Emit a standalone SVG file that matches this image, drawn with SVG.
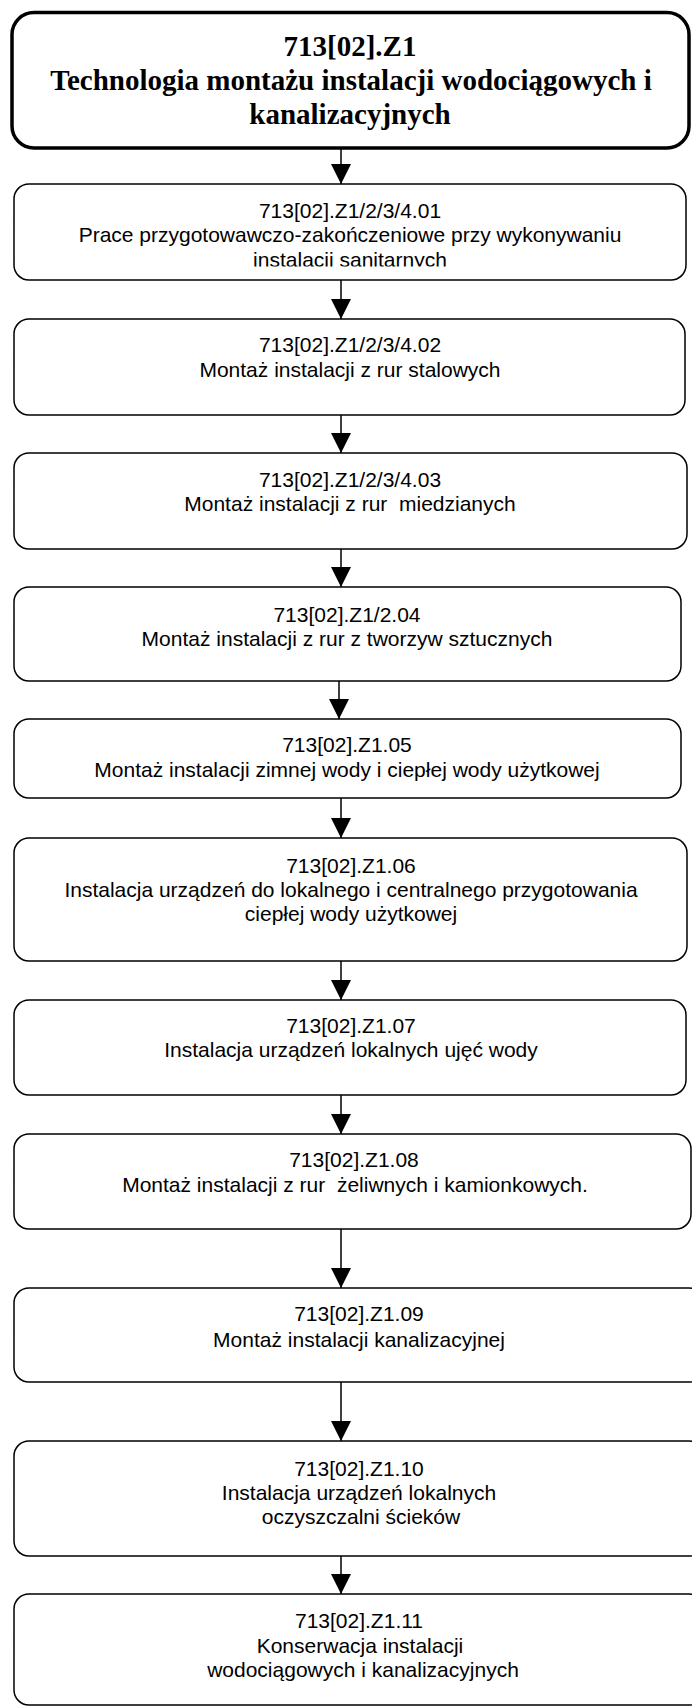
<svg xmlns="http://www.w3.org/2000/svg" width="692" height="1706" viewBox="0 0 692 1706">
<style>
.box{fill:#fff;stroke:#000;stroke-width:1.5}
.title{fill:#fff;stroke:#000;stroke-width:3.5}
.tt{font-family:"Liberation Serif","Times New Roman",serif;font-weight:bold;font-size:29px;text-anchor:middle;fill:#000}
.t{font-family:"Liberation Sans",Arial,sans-serif;font-size:21px;text-anchor:middle;fill:#000}
.c{fill:none;stroke:#000;stroke-width:1.5}
</style>
<defs>
<marker id="ah" markerUnits="userSpaceOnUse" markerWidth="20" markerHeight="20" refX="20" refY="10" orient="auto" viewBox="0 0 20 20">
<path d="M0,0 L20,10 L0,20 Z" fill="#000"/>
</marker>
<clipPath id="clip01"><rect x="0" y="180" width="692" height="86.5"/></clipPath>
</defs>
<g id="connectors">
<path class="c" d="M341,148 V184" marker-end="url(#ah)"/>
<path class="c" d="M341,280 V319" marker-end="url(#ah)"/>
<path class="c" d="M341,415 V453" marker-end="url(#ah)"/>
<path class="c" d="M341,549 V587" marker-end="url(#ah)"/>
<path class="c" d="M339,681 V719" marker-end="url(#ah)"/>
<path class="c" d="M341,798 V838" marker-end="url(#ah)"/>
<path class="c" d="M341,961 V1000" marker-end="url(#ah)"/>
<path class="c" d="M341,1095 V1134" marker-end="url(#ah)"/>
<path class="c" d="M341,1229 V1288" marker-end="url(#ah)"/>
<path class="c" d="M341,1382 V1441" marker-end="url(#ah)"/>
<path class="c" d="M341,1556 V1594" marker-end="url(#ah)"/>
</g>
<g id="n0">
<rect class="title" x="12" y="12.5" width="677" height="135.5" rx="22"/>
<text class="tt" x="350" y="56">713[02].Z1</text>
<text class="tt" x="351" y="90">Technologia montażu instalacji wodociągowych i</text>
<text class="tt" x="350" y="124">kanalizacyjnych</text>
</g>
<g id="n1">
<rect class="box" x="14" y="184" width="672" height="96" rx="15"/>
<g clip-path="url(#clip01)">
<text class="t" x="350" y="218">713[02].Z1/2/3/4.01</text>
<text class="t" x="350" y="242">Prace przygotowawczo-zakończeniowe przy wykonywaniu</text>
<text class="t" x="350" y="267">instalacji sanitarnych</text>
</g>
</g>
<g id="n2">
<rect class="box" x="14" y="319" width="671" height="96" rx="15"/>
<text class="t" x="350" y="352">713[02].Z1/2/3/4.02</text>
<text class="t" x="350" y="377">Montaż instalacji z rur stalowych</text>
</g>
<g id="n3">
<rect class="box" x="14" y="453" width="673" height="96" rx="15"/>
<text class="t" x="350" y="487">713[02].Z1/2/3/4.03</text>
<text class="t" x="350" y="511" xml:space="preserve">Montaż instalacji z rur  miedzianych</text>
</g>
<g id="n4">
<rect class="box" x="14" y="587" width="667" height="94" rx="15"/>
<text class="t" x="347" y="622">713[02].Z1/2.04</text>
<text class="t" x="347" y="646">Montaż instalacji z rur z tworzyw sztucznych</text>
</g>
<g id="n5">
<rect class="box" x="14" y="719" width="667" height="79" rx="15"/>
<text class="t" x="347" y="752">713[02].Z1.05</text>
<text class="t" x="347" y="777">Montaż instalacji zimnej wody i ciepłej wody użytkowej</text>
</g>
<g id="n6">
<rect class="box" x="14" y="838" width="673" height="123" rx="15"/>
<text class="t" x="351" y="873">713[02].Z1.06</text>
<text class="t" x="351" y="897">Instalacja urządzeń do lokalnego i centralnego przygotowania</text>
<text class="t" x="351" y="921">ciepłej wody użytkowej</text>
</g>
<g id="n7">
<rect class="box" x="14" y="1000" width="672" height="95" rx="15"/>
<text class="t" x="351" y="1033">713[02].Z1.07</text>
<text class="t" x="351" y="1057">Instalacja urządzeń lokalnych ujęć wody</text>
</g>
<g id="n8">
<rect class="box" x="14" y="1134" width="677" height="95" rx="15"/>
<text class="t" x="354" y="1167">713[02].Z1.08</text>
<text class="t" x="355" y="1192" xml:space="preserve">Montaż instalacji z rur  żeliwnych i kamionkowych.</text>
</g>
<g id="n9">
<rect class="box" x="14" y="1288" width="690" height="94" rx="15"/>
<text class="t" x="359" y="1321">713[02].Z1.09</text>
<text class="t" x="359" y="1347">Montaż instalacji kanalizacyjnej</text>
</g>
<g id="n10">
<rect class="box" x="14" y="1441" width="690" height="115" rx="15"/>
<text class="t" x="359" y="1476">713[02].Z1.10</text>
<text class="t" x="359" y="1500">Instalacja urządzeń lokalnych</text>
<text class="t" x="361" y="1524">oczyszczalni ścieków</text>
</g>
<g id="n11">
<rect class="box" x="14" y="1594" width="690" height="111" rx="15"/>
<text class="t" x="359" y="1628">713[02].Z1.11</text>
<text class="t" x="360" y="1653">Konserwacja instalacji</text>
<text class="t" x="363" y="1677">wodociągowych i kanalizacyjnych</text>
</g>
</svg>
